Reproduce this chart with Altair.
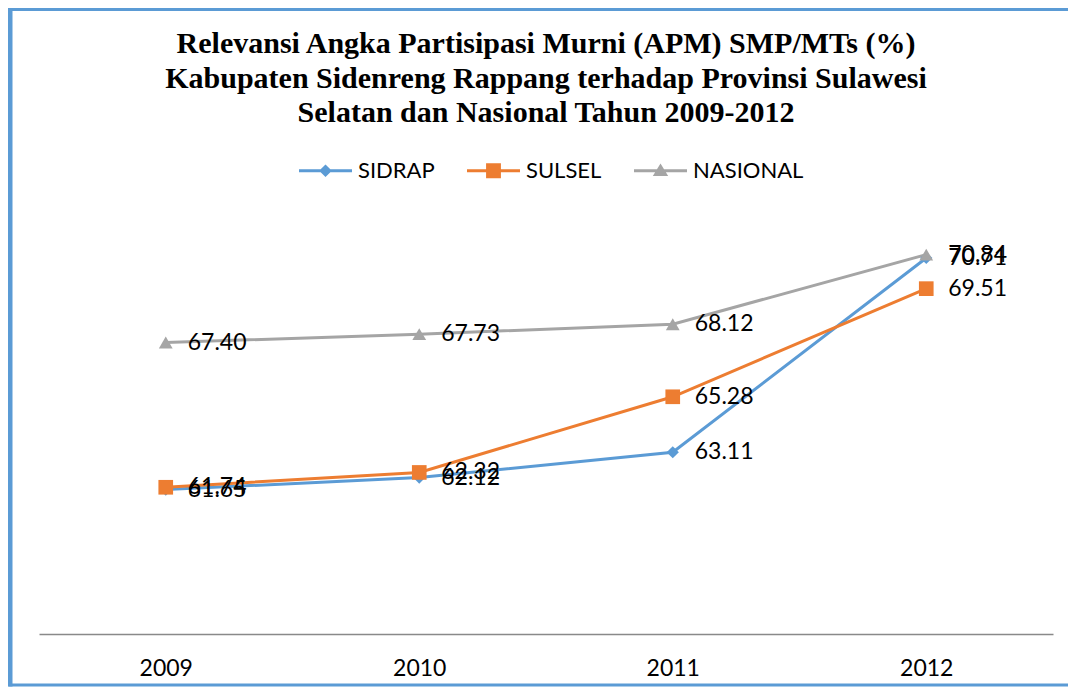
import altair as alt
import pandas as pd

years = ["2009", "2010", "2011", "2012"]
series = ["SIDRAP", "SULSEL", "NASIONAL"]
sidrap = [61.65, 62.12, 63.11, 70.71]
sulsel = [61.74, 62.32, 65.28, 69.51]
nasional = [67.40, 67.73, 68.12, 70.84]
colors = ["#5B9BD5", "#ED7D31", "#A5A5A5"]
shapes = ["diamond", "square", "triangle-up"]
sizes = [150, 215, 190]
title_lines = [
    "Relevansi Angka Partisipasi Murni (APM) SMP/MTs (%)",
    "Kabupaten Sidenreng Rappang terhadap Provinsi Sulawesi",
    "Selatan dan Nasional Tahun 2009-2012",
]

rows = []
for s, vals in zip(series, [sidrap, sulsel, nasional]):
    for yr, v in zip(years, vals):
        rows.append({"year": yr, "series": s, "value": v, "label": f"{v:.2f}"})
df = pd.DataFrame(rows)

W, H = 1014, 409
FONT = "Lato"

# legend symbols: filled bar (line segment) + marker, unit coordinates
bar = "M-1,-0.06H1V0.06H-1Z"
legend_paths = [
    bar + "M0,-0.24L0.24,0L0,0.24L-0.24,0Z",
    bar + "M-0.28,-0.28H0.28V0.28H-0.28Z",
    bar + "M0,-0.27L0.29,0.2H-0.29Z",
]

legend = alt.Legend(
    title=None,
    orient="none",
    legendX=260,
    legendY=-81,
    direction="horizontal",
    padding=0,
    symbolSize=2809,
    symbolStrokeWidth=0,
    symbolOpacity=1,
    labelFont=FONT,
    labelFontSize=22,
    labelColor="#000000",
    labelOffset=6,
    columnPadding=32,
)

x = alt.X(
    "year:O",
    sort=years,
    scale=alt.Scale(type="point", padding=0.5),
    axis=alt.Axis(
        title=None,
        labelAngle=0,
        ticks=False,
        grid=False,
        domainColor="#898989",
        domainWidth=1.5,
        labelFont=FONT,
        labelFontSize=23,
        labelColor="#000000",
        labelPadding=23,
    ),
)
y = alt.Y("value:Q", scale=alt.Scale(domain=[56, 72], nice=False, zero=False), axis=None)
color = alt.Color("series:N", scale=alt.Scale(domain=series, range=colors), legend=legend, sort=series)

base = alt.Chart(df)

# legend carrier: no visible marks, only the legend entries
legend_layer = base.transform_filter("false").mark_point(
    filled=True, size=2809, opacity=1
).encode(
    x=x,
    y=y,
    color=color,
    shape=alt.Shape("series:N", scale=alt.Scale(domain=series, range=legend_paths), legend=legend, sort=series),
)

lines = base.mark_line(strokeWidth=3).encode(x=x, y=y, color=color, detail="series:N")

point_layers = [
    base.transform_filter(alt.datum.series == s)
    .mark_point(filled=True, opacity=1, shape=sh, size=sz, color=c)
    .encode(x=x, y=y)
    for s, sh, sz, c in zip(series, shapes, sizes, colors)
]

labels = base.mark_text(
    align="left", baseline="middle", dx=22, font=FONT, fontSize=23, color="#000000"
).encode(x=x, y=y, text="label:N")

title_text = alt.Chart(alt.Data(values=[{"a": 1}])).mark_text(
    font="Liberation Serif",
    fontSize=30,
    fontWeight="bold",
    color="#000000",
    align="center",
    baseline="top",
    lineHeight=34.5,
).encode(
    x=alt.value(W / 2),
    y=alt.value(-196),
    text=alt.value(title_lines),
)

border = alt.Chart(alt.Data(values=[{"a": 1}])).mark_rect(
    fillOpacity=0, stroke="#5B9BD5", strokeWidth=3
).encode(
    x=alt.value(-29),
    x2=alt.value(1100),
    y=alt.value(-215.5),
    y2=alt.value(460),
)
border_left = alt.Chart(alt.Data(values=[{"a": 1}])).mark_rule(
    stroke="#5B9BD5", strokeWidth=5
).encode(
    x=alt.value(-29),
    y=alt.value(-217),
    y2=alt.value(461.5),
)

chart = alt.layer(
    legend_layer, border, border_left, title_text, lines, *point_layers, labels
).properties(
    width=W,
    height=H,
    background="white",
    autosize=alt.AutoSizeParams(type="none"),
    padding={"left": 31, "top": 217, "right": 15, "bottom": 54},
).configure_view(strokeWidth=0, stroke="transparent")

chart.save("out.html", embed_options={"renderer": "svg", "actions": False})
